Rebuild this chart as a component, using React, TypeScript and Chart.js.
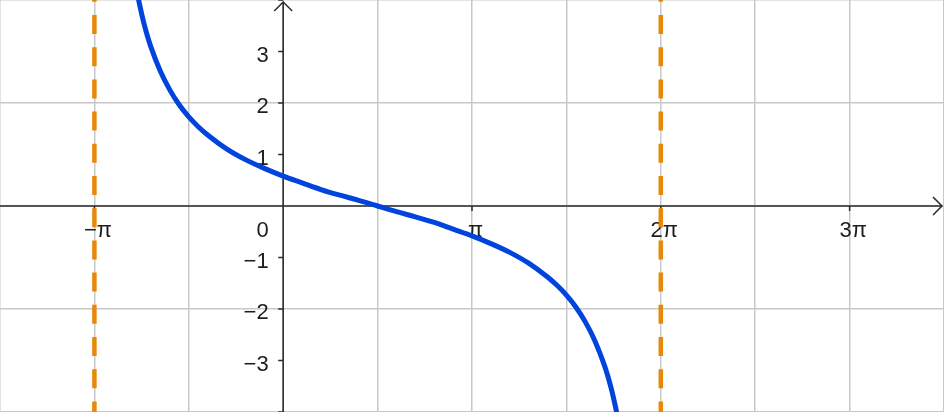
import { useEffect, useRef } from "react"
import { Chart, registerables } from "chart.js"

Chart.register(...registerables)

// x values are in multiples of π
const curveX = [
  -0.78, -0.76, -0.74, -0.72, -0.7, -0.65, -0.6, -0.55, -0.5, -0.45, -0.4, -0.3, -0.2, -0.1, 0,
  0.1, 0.2, 0.3, 0.4, 0.5, 0.6, 0.7, 0.8, 0.9, 1, 1.1, 1.2, 1.3, 1.4, 1.45, 1.5, 1.55, 1.6,
  1.65, 1.7, 1.72, 1.74, 1.76, 1.78,
]
const curveY = [
  4.26, 3.9, 3.58, 3.31, 3.08, 2.61, 2.25, 1.96, 1.73, 1.54, 1.38, 1.11, 0.9, 0.73, 0.58,
  0.45, 0.32, 0.21, 0.11, 0, -0.11, -0.21, -0.32, -0.45, -0.58, -0.73, -0.9, -1.11, -1.38,
  -1.54, -1.73, -1.96, -2.25, -2.61, -3.08, -3.31, -3.58, -3.9, -4.26,
]
const asymptoteX = [-1, 2]

const xTickValues = [-1, 1, 2, 3]
const xTickLabels = ["−π", "π", "2π", "3π"]
const yTickValues = [-4, -3, -2, -1, 1, 2, 3, 4]
const yLabelValues = [-3, -2, -1, 1, 2, 3]
const yLabelTexts = ["−3", "−2", "−1", "1", "2", "3"]
const originLabel = "0"

const axesPlugin = {
  id: "axes",
  beforeDatasetsDraw(chart: any) {
    const { ctx, chartArea, scales } = chart
    const xs = scales.x
    const ys = scales.y
    const ox = xs.getPixelForValue(0)
    const oy = ys.getPixelForValue(0)
    ctx.save()
    ctx.strokeStyle = "#2b2b2b"
    ctx.lineWidth = 1.5
    ctx.beginPath()
    ctx.moveTo(chartArea.left, oy)
    ctx.lineTo(chartArea.right - 2, oy)
    ctx.moveTo(ox, chartArea.bottom)
    ctx.lineTo(ox, chartArea.top + 2)
    xTickValues.forEach((v) => {
      const px = xs.getPixelForValue(v)
      ctx.moveTo(px, oy)
      ctx.lineTo(px, oy + 5)
    })
    yTickValues.forEach((v) => {
      const py = ys.getPixelForValue(v)
      ctx.moveTo(ox - 5, py)
      ctx.lineTo(ox, py)
    })
    ctx.stroke()

    // arrow heads
    ctx.beginPath()
    ctx.moveTo(chartArea.right - 11, oy - 9)
    ctx.lineTo(chartArea.right - 2, oy)
    ctx.lineTo(chartArea.right - 11, oy + 9)
    ctx.moveTo(ox - 9, chartArea.top + 11)
    ctx.lineTo(ox, chartArea.top + 2)
    ctx.lineTo(ox + 9, chartArea.top + 11)
    ctx.stroke()

    ctx.fillStyle = "#1e1e1e"
    ctx.font = '22px "Liberation Sans", Arial, sans-serif'
    ctx.textBaseline = "alphabetic"
    ctx.textAlign = "center"
    xTickValues.forEach((v, i) => {
      ctx.fillText(xTickLabels[i], xs.getPixelForValue(v) + 3.5, oy + 31)
    })
    ctx.textAlign = "right"
    ctx.fillText(originLabel, ox - 14.5, oy + 31)
    yLabelValues.forEach((v, i) => {
      ctx.fillText(yLabelTexts[i], ox - 14.5, ys.getPixelForValue(v) + 10)
    })
    ctx.restore()
  },
}

export default function App() {
  const chartRef = useRef<HTMLCanvasElement | null>(null)
  const chartInstance = useRef<Chart | null>(null)

  useEffect(() => {
    if (!chartRef.current) return
    if (chartInstance.current) chartInstance.current.destroy()

    const curveData = curveX.map((x, i) => ({ x, y: curveY[i] }))
    const asymptoteSets = asymptoteX.map((x) => ({
      data: [
        { x, y: 4 },
        { x, y: -4 },
      ],
      borderColor: "#e8880a",
      borderWidth: 4.5,
      borderDash: [19, 13.2],
      borderDashOffset: 17.2,
      pointRadius: 0,
      tension: 0,
    }))

    chartInstance.current = new Chart(chartRef.current, {
      type: "line",
      data: {
        datasets: [
          {
            data: curveData,
            borderColor: "#0044dd",
            borderWidth: 5,
            pointRadius: 0,
            cubicInterpolationMode: "monotone",
          },
          ...asymptoteSets,
        ],
      },
      options: {
        responsive: true,
        maintainAspectRatio: false,
        animation: false,
        layout: { padding: 0 },
        plugins: {
          legend: { display: false },
          tooltip: { enabled: false },
        },
        scales: {
          x: {
            type: "linear",
            min: -1.5,
            max: 3.5,
            ticks: { display: false, stepSize: 0.5 },
            grid: { color: "#c8c8c8", lineWidth: 1.5, drawTicks: false },
            border: { display: false },
            afterFit: (s: any) => {
              s.height = 0
            },
          },
          y: {
            type: "linear",
            min: -4,
            max: 4,
            ticks: { display: false, stepSize: 2 },
            grid: { color: "#c8c8c8", lineWidth: 1.5, drawTicks: false },
            border: { display: false },
            afterFit: (s: any) => {
              s.width = 0
            },
          },
        },
      },
      plugins: [axesPlugin],
    })

    return () => {
      if (chartInstance.current) {
        chartInstance.current.destroy()
        chartInstance.current = null
      }
    }
  }, [])

  return (
    <div style={{ position: "absolute", left: 0, top: 0, width: 944, height: 412, background: "#fff" }}>
      <canvas ref={chartRef}></canvas>
    </div>
  )
}
